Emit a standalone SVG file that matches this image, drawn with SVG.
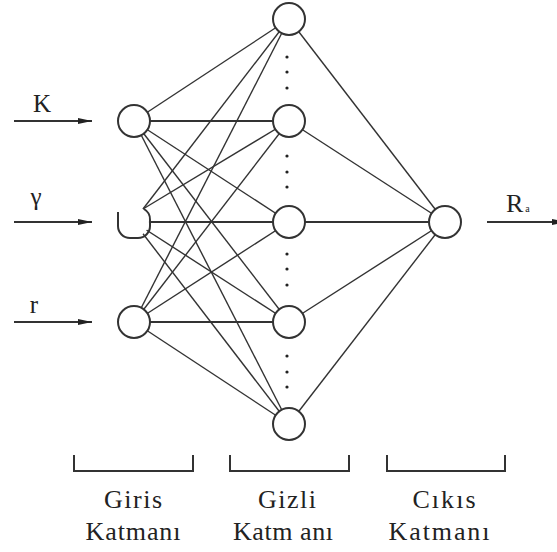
<svg xmlns="http://www.w3.org/2000/svg" width="557" height="552" viewBox="0 0 557 552">
<defs>
<style>
.ln{stroke:#333;stroke-width:1.4;fill:none}
.hz{stroke:#333;stroke-width:2.2;fill:none}
.nd{fill:#fff;stroke:#333;stroke-width:2}
.dot{fill:#222}
.br{stroke:#333;stroke-width:2;fill:none}
text{font-family:'Liberation Serif','DejaVu Serif',serif;fill:#222}
.lab{font-size:26px;text-anchor:middle}
</style>
<marker id="ah2" viewBox="0 0 14 6" refX="14" refY="3" markerWidth="14" markerHeight="6" markerUnits="userSpaceOnUse" orient="auto">
<path d="M0,0 L14,3 L0,6 Z" fill="#222"/>
</marker>
</defs>
<rect width="557" height="552" fill="#fff"/>
<g id="connectors">
<line class="ln" x1="134" y1="121" x2="289" y2="19"/>
<line class="hz" x1="134" y1="121" x2="289" y2="121"/>
<line class="ln" x1="134" y1="121" x2="289" y2="222"/>
<line class="ln" x1="134" y1="121" x2="289" y2="322"/>
<line class="ln" x1="134" y1="121" x2="289" y2="424"/>
<line class="ln" x1="143" y1="209" x2="289" y2="19"/>
<line class="ln" x1="143" y1="209" x2="289" y2="121"/>
<line class="hz" x1="134" y1="222" x2="289" y2="222"/>
<line class="ln" x1="134" y1="222" x2="289" y2="322"/>
<line class="ln" x1="134" y1="222" x2="289" y2="424"/>
<line class="ln" x1="134" y1="322" x2="289" y2="19"/>
<line class="ln" x1="134" y1="322" x2="289" y2="121"/>
<line class="ln" x1="134" y1="322" x2="289" y2="222"/>
<line class="hz" x1="134" y1="322" x2="289" y2="322"/>
<line class="ln" x1="134" y1="322" x2="289" y2="424"/>
<line class="ln" x1="289" y1="19" x2="445" y2="222"/>
<line class="ln" x1="289" y1="121" x2="445" y2="222"/>
<line class="hz" x1="289" y1="222" x2="445" y2="222"/>
<line class="ln" x1="289" y1="322" x2="445" y2="222"/>
<line class="ln" x1="289" y1="424" x2="445" y2="222"/>
<line class="hz" x1="14" y1="121" x2="92" y2="121" marker-end="url(#ah2)"/>
<line class="hz" x1="14" y1="222" x2="92" y2="222" marker-end="url(#ah2)"/>
<line class="hz" x1="14" y1="322" x2="92" y2="322" marker-end="url(#ah2)"/>
<line class="hz" x1="487" y1="222" x2="566" y2="222" marker-end="url(#ah2)"/>
</g>
<g id="input-K"><circle class="nd" cx="134" cy="121" r="16"/></g>
<g id="input-gamma">
<circle cx="134" cy="222" r="15" fill="#fff"/>
<path class="br" d="M118,212 V226 A12,12 0 0 0 130,238 H138 A12,12 0 0 0 150,226 V220 A12,12 0 0 0 144,209"/>
</g>
<g id="input-r"><circle class="nd" cx="134" cy="322" r="16"/></g>
<g id="hidden-1"><circle class="nd" cx="289" cy="19" r="16"/></g>
<g id="hidden-2"><circle class="nd" cx="289" cy="121" r="16"/></g>
<g id="hidden-3"><circle class="nd" cx="289" cy="222" r="16"/></g>
<g id="hidden-4"><circle class="nd" cx="289" cy="322" r="16"/></g>
<g id="hidden-5"><circle class="nd" cx="289" cy="424" r="16"/></g>
<g id="output"><circle class="nd" cx="445" cy="222" r="16"/></g>
<g id="dots">
<circle class="dot" cx="287" cy="57" r="1.6"/><circle class="dot" cx="287" cy="72" r="1.6"/><circle class="dot" cx="287" cy="88" r="1.6"/>
<circle class="dot" cx="287" cy="156" r="1.6"/><circle class="dot" cx="287" cy="172" r="1.6"/><circle class="dot" cx="287" cy="187" r="1.6"/>
<circle class="dot" cx="287" cy="254" r="1.6"/><circle class="dot" cx="287" cy="269" r="1.6"/><circle class="dot" cx="287" cy="285" r="1.6"/>
<circle class="dot" cx="287" cy="356" r="1.6"/><circle class="dot" cx="287" cy="372" r="1.6"/><circle class="dot" cx="287" cy="387" r="1.6"/>
</g>
<g id="input-labels">
<text x="42" y="112" font-size="25" text-anchor="middle">K</text>
<text x="36" y="205" font-size="25" text-anchor="middle">γ</text>
<text x="34" y="313" font-size="25" text-anchor="middle">r</text>
<text x="506" y="212" font-size="26">R<tspan font-size="10" dx="2">a</tspan></text>
</g>
<g id="brackets">
<path class="br" d="M74,455 V471 H193 V455"/>
<path class="br" d="M230,455 V471 H349 V455"/>
<path class="br" d="M387,455 V471 H505 V455"/>
</g>
<g id="layer-labels" class="lab">
<text x="133" y="508" textLength="58">Giris</text>
<text x="133" y="540" textLength="95">Katmanı</text>
<text x="287" y="508" textLength="58">Gizli</text>
<text x="283" y="540" textLength="100">Katm anı</text>
<text x="444" y="508" textLength="63">Cıkıs</text>
<text x="439" y="540" textLength="101">Katmanı</text>
</g>
</svg>
